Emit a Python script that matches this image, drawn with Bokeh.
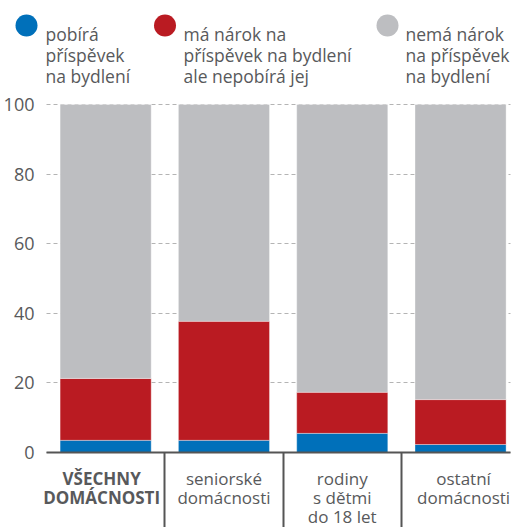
from bokeh.plotting import figure
from bokeh.models import Range1d, FixedTicker, ColumnDataSource, Grid
from bokeh.embed import file_html
from bokeh.resources import INLINE
from bokeh.core.properties import value

# ---- data ----
categories = ["VŠECHNY\nDOMÁCNOSTI", "seniorské\ndomácnosti", "rodiny\ns dětmi\ndo 18 let", "ostatní\ndomácnosti"]
receives = [3.5, 3.5, 5.5, 2.3]                    # pobírá příspěvek na bydlení
eligible_not_receiving = [17.8, 34.2, 11.8, 12.9]  # má nárok, ale nepobírá
not_eligible = [78.7, 62.3, 82.7, 84.8]            # nemá nárok
series_labels = ["pobírá\npříspěvek\nna bydlení",
                 "má nárok na\npříspěvek na bydlení\nale nepobírá jej",
                 "nemá nárok\nna příspěvek\nna bydlení"]
series_colors = ["#0070BA", "#BA1B22", "#BDBEC1"]
y_ticks = [0, 20, 40, 60, 80, 100]

FONT = "Open Sans"
TEXT = "#58595B"
AXIS = "#555555"

# ---- layout: canvas pixels <-> data units ----
W, H = 515, 527
PX = 118.3          # pixels per category slot
PY = 3.48           # pixels per percentage point
ORG_X, ORG_Y = 46, 452   # canvas pixel of data (0, 0)
X_END = 3.92


def dx(px):
    return (px - ORG_X) / PX


def dy(py):
    return (ORG_Y - py) / PY


p = figure(width=W, height=H, x_range=Range1d(dx(0), dx(W)), y_range=Range1d(dy(H), dy(0)),
           output_backend="svg", toolbar_location=None, min_border=0)
p.outline_line_color = None
p.xgrid.visible = False

# grid
has_cross = "cross_bounds" in Grid.properties()
p.ygrid.ticker = FixedTicker(ticks=y_ticks)
if has_cross:
    p.ygrid.cross_bounds = (0, X_END)
    p.ygrid.grid_line_color = "#B4B4B4"
    p.ygrid.grid_line_dash = "4 3"
    p.ygrid.grid_line_width = 1
else:
    p.ygrid.visible = False
    p.segment(x0=[0] * len(y_ticks), x1=[X_END] * len(y_ticks), y0=y_ticks, y1=y_ticks,
              line_color="#B4B4B4", line_dash="4 3", line_width=1)

# bars
xs = [i + 0.5 for i in range(len(categories))]
src = ColumnDataSource(dict(x=xs, receives=receives,
                            eligible=eligible_not_receiving, not_eligible=not_eligible))
p.vbar_stack(["receives", "eligible", "not_eligible"], x="x", width=0.77, source=src,
             fill_color=series_colors, line_color="white", line_alpha=0.35, line_width=1)

# y axis, drawn inside the canvas
p.yaxis.fixed_location = 0
p.yaxis.ticker = FixedTicker(ticks=y_ticks)
p.yaxis.axis_line_color = None
p.yaxis.major_tick_line_color = None
p.yaxis.minor_tick_line_color = None
p.yaxis.major_label_text_font = FONT
p.yaxis.major_label_text_font_size = "18px"
p.yaxis.major_label_text_color = TEXT
p.yaxis.major_label_standoff = 6

# x axis with separators between categories
p.xaxis.fixed_location = 0
p.xaxis.bounds = (0, X_END)
p.xaxis.ticker = FixedTicker(ticks=[], minor_ticks=list(range(1, len(categories))))
p.xaxis.axis_line_color = AXIS
p.xaxis.axis_line_width = 2
p.xaxis.major_tick_out = 0
p.xaxis.major_tick_in = 0
p.xaxis.minor_tick_in = 0
p.xaxis.minor_tick_out = 80
p.xaxis.minor_tick_line_width = 2
p.xaxis.minor_tick_line_color = AXIS

# category labels
label_dx = [-4, 0, 0, 3]
for i, cat in enumerate(categories):
    for j, line in enumerate(cat.split("\n")):
        p.text(x=[xs[i] + label_dx[i] / PX], y=[dy(478 + 19 * j)], text=[line],
               text_font=value(FONT), text_font_size="17px", text_color=TEXT,
               text_align="center", text_baseline="alphabetic",
               text_font_style="bold" if i == 0 else "normal")

# legend
item_px = [26, 164.5, 387]
text_px = [45, 183, 405]
p.scatter(x=[dx(v) for v in item_px], y=[dy(25)] * len(item_px), size=22,
          color=series_colors, line_color=None)
for tx, lab in zip(text_px, series_labels):
    for j, line in enumerate(lab.split("\n")):
        p.text(x=[dx(tx)], y=[dy(33 + 21 * j)], text=[line], text_font=value(FONT),
               text_font_size="17.5px", text_color=TEXT, text_baseline="alphabetic",
               text_align="left")

open("out.html", "w").write(file_html(p, INLINE))
